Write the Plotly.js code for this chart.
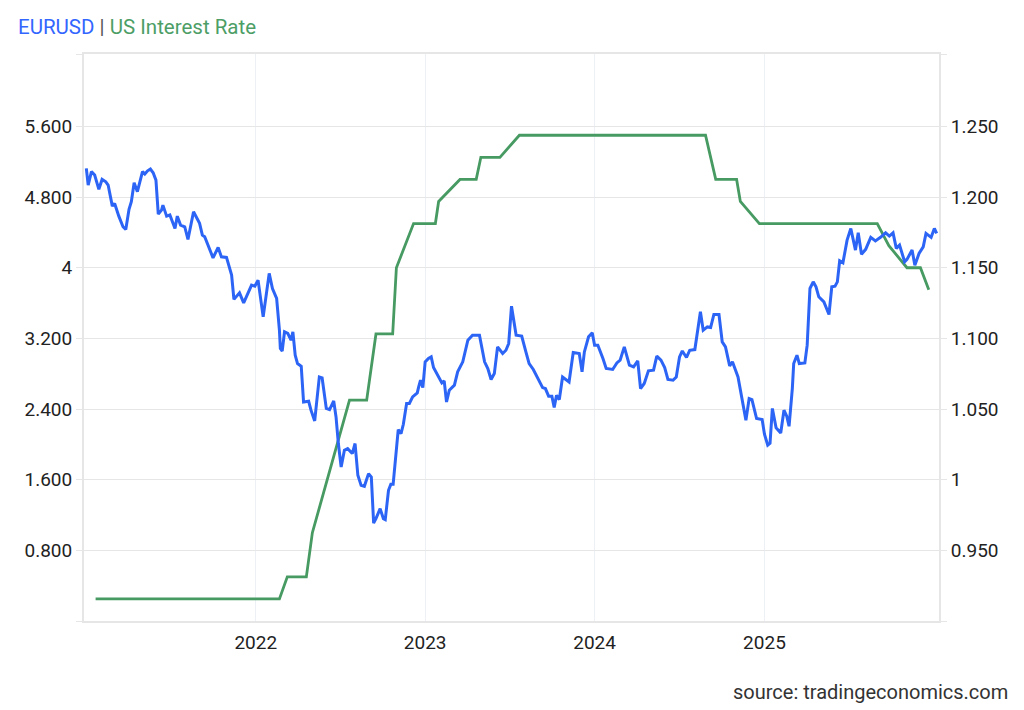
<!DOCTYPE html>
<html>
<head>
<meta charset="utf-8">
<script src="https://cdn.plot.ly/plotly-3.0.1.min.js"></script>
<style>html,body{margin:0;padding:0;background:#fff}#chart{width:1024px;height:710px}</style>
</head>
<body>
<div id="chart"></div>
<script>
// ---- data ----
const eurusdDates = [
'2021-01-01','2021-01-05','2021-01-12','2021-01-19','2021-01-28','2021-02-04','2021-02-12','2021-02-17','2021-02-26','2021-03-03','2021-03-12','2021-03-21','2021-03-27','2021-04-03','2021-04-08','2021-04-14','2021-04-21','2021-05-02','2021-05-07','2021-05-13','2021-05-19','2021-05-25','2021-05-31','2021-06-05','2021-06-12','2021-06-15','2021-06-23','2021-06-30','2021-07-11','2021-07-16','2021-07-23','2021-08-01','2021-08-08','2021-08-14','2021-08-20','2021-09-02','2021-09-08','2021-09-13','2021-10-01','2021-10-12','2021-10-19','2021-10-30','2021-11-10','2021-11-15','2021-11-27','2021-12-06','2021-12-23','2021-12-30',
'2022-01-06','2022-01-17','2022-01-30','2022-02-06','2022-02-15','2022-02-21','2022-02-23','2022-02-27','2022-03-04','2022-03-11','2022-03-18','2022-03-22','2022-03-27','2022-04-01','2022-04-09','2022-04-14','2022-04-25','2022-04-30','2022-05-08','2022-05-18','2022-05-24','2022-06-02','2022-06-09','2022-06-18','2022-06-23','2022-06-28','2022-07-04','2022-07-11','2022-07-18','2022-07-28','2022-08-03','2022-08-09','2022-08-16','2022-08-23','2022-09-01','2022-09-07','2022-09-12','2022-09-17','2022-09-26','2022-10-03','2022-10-07','2022-10-14','2022-10-19','2022-10-24','2022-11-04','2022-11-10','2022-11-15','2022-11-22','2022-11-28','2022-12-05','2022-12-15','2022-12-18','2022-12-22','2022-12-27',
'2023-01-01','2023-01-08','2023-01-14','2023-01-19','2023-01-28','2023-02-06','2023-02-11','2023-02-16','2023-02-22','2023-03-05','2023-03-12','2023-03-23','2023-04-03','2023-04-13','2023-04-28','2023-05-09','2023-05-16','2023-05-23','2023-05-30','2023-06-06','2023-06-17','2023-06-24','2023-06-30','2023-07-06','2023-07-16','2023-07-28','2023-08-06','2023-08-13','2023-08-22','2023-09-02','2023-09-11','2023-09-17','2023-09-24','2023-10-01','2023-10-06','2023-10-11','2023-10-17','2023-10-24','2023-11-07','2023-11-16','2023-11-29','2023-12-05','2023-12-10','2023-12-19','2023-12-27',
'2024-01-01','2024-01-08','2024-01-19','2024-01-26','2024-02-09','2024-02-18','2024-02-25','2024-03-05','2024-03-16','2024-03-25','2024-04-03','2024-04-09','2024-04-17','2024-04-26','2024-05-07','2024-05-14','2024-05-23','2024-05-31','2024-06-07','2024-06-18','2024-06-25','2024-07-02','2024-07-08','2024-07-17','2024-07-24','2024-08-04','2024-08-16','2024-08-22','2024-08-31','2024-09-07','2024-09-14','2024-09-25','2024-10-02','2024-10-09','2024-10-18','2024-10-24','2024-11-05','2024-11-14','2024-11-22','2024-11-29','2024-12-05','2024-12-15','2024-12-27',
'2025-01-01','2025-01-08','2025-01-13','2025-01-18','2025-01-26','2025-02-05','2025-02-12','2025-02-18','2025-02-23','2025-03-02','2025-03-05','2025-03-12','2025-03-17','2025-03-29','2025-04-03','2025-04-09','2025-04-16','2025-04-22','2025-04-28','2025-05-09','2025-05-20','2025-05-26','2025-06-02','2025-06-07','2025-06-12','2025-06-19','2025-06-28','2025-07-06','2025-07-16','2025-07-22','2025-07-29','2025-08-07','2025-08-18','2025-08-28','2025-09-08','2025-09-19','2025-09-27','2025-10-05','2025-10-12','2025-10-19','2025-10-30','2025-11-04','2025-11-15','2025-11-21','2025-11-30','2025-12-09','2025-12-15','2025-12-26','2026-01-02','2026-01-07'
];
const eurusdValues = [
1.2203,1.2085,1.218,1.2156,1.2055,1.2125,1.2108,1.2085,1.1936,1.1955,1.1865,1.179,1.1771,1.1913,1.1967,1.2101,1.2038,1.218,1.2163,1.2186,1.2198,1.2172,1.212,1.188,1.1908,1.1943,1.1865,1.1873,1.1778,1.1865,1.1802,1.179,1.170,1.1802,1.1896,1.1814,1.1731,1.1719,1.157,1.1644,1.1577,1.1573,1.1448,1.1276,1.1322,1.1251,1.1377,1.137,
1.1412,1.1152,1.146,1.1353,1.1283,1.1058,1.0928,1.0911,1.1046,1.1035,1.0987,1.1046,1.0881,1.0822,1.0803,1.055,1.0555,1.0492,1.0416,1.0727,1.072,1.0504,1.0496,1.0557,1.0444,1.0256,1.009,1.0208,1.022,1.0185,1.0256,1.0031,0.996,0.9953,1.0043,1.0019,0.9693,0.9724,0.9795,0.9724,0.9717,0.9925,0.9967,0.9967,1.0355,1.0326,1.0392,1.0539,1.0539,1.0586,1.0614,1.0657,1.0704,1.0652,
1.0834,1.0858,1.0869,1.0794,1.0739,1.0685,1.0699,1.055,1.0633,1.0669,1.0763,1.0834,1.0987,1.1023,1.1023,1.0834,1.0787,1.0709,1.0751,1.094,1.0893,1.0916,1.0964,1.1228,1.1023,1.1016,1.0904,1.0822,1.078,1.0709,1.0652,1.0645,1.0591,1.0591,1.0511,1.0598,1.0567,1.0727,1.0692,1.0900,1.0893,1.0763,1.0904,1.1011,1.1039,
1.0952,1.0952,1.0858,1.0787,1.078,1.0826,1.0846,1.094,1.081,1.0798,1.0841,1.0645,1.0681,1.077,1.0775,1.0874,1.0846,1.0794,1.0709,1.0704,1.0727,1.0869,1.0911,1.0865,1.0916,1.0921,1.1188,1.1058,1.1081,1.1077,1.1169,1.1169,1.0975,1.094,1.0805,1.0834,1.0727,1.0576,1.0421,1.0574,1.0567,1.0433,1.0426,
1.0322,1.0244,1.0258,1.0504,1.0368,1.0331,1.0492,1.0449,1.0378,1.0645,1.0822,1.0881,1.0822,1.0826,1.0952,1.1353,1.140,1.1365,1.1294,1.1258,1.1169,1.1365,1.137,1.140,1.1549,1.1535,1.1695,1.1778,1.1625,1.1747,1.1596,1.163,1.1715,1.169,1.1715,1.1747,1.1724,1.1747,1.1637,1.166,1.1542,1.1559,1.1625,1.1518,1.1601,1.1648,1.1743,1.1715,1.1778,1.1743
];
const rateDates = ['2021-01-21','2022-02-21','2022-03-10','2022-04-20','2022-05-03','2022-07-22','2022-08-28','2022-09-17','2022-10-23','2022-10-31','2022-12-07','2023-01-23','2023-01-30','2023-03-17','2023-04-21','2023-05-01','2023-06-11','2023-07-23','2024-08-27','2024-09-18','2024-11-02','2024-11-10','2024-12-21','2025-09-01','2025-09-26','2025-11-04','2025-12-03','2025-12-21'];
const rateValues = [0.25,0.25,0.5,0.5,1.0,2.5,2.5,3.25,3.25,4.0,4.5,4.5,4.75,5.0,5.0,5.25,5.25,5.5,5.5,5.0,5.0,4.75,4.5,4.5,4.25,4.0,4.0,3.75];

const leftTickVals = [0, 0.8, 1.6, 2.4, 3.2, 4, 4.8, 5.6, 6.42];
const leftTickText = ['', '0.800', '1.600', '2.400', '3.200', '4', '4.800', '5.600', ''];
const rightTickVals = [0.9, 0.95, 1.0, 1.05, 1.10, 1.15, 1.20, 1.25, 1.30125];
const rightTickText = ['', '0.950', '1', '1.050', '1.100', '1.150', '1.200', '1.250', ''];
const yearTickVals = ['2022-01-01', '2023-01-01', '2024-01-01', '2025-01-01'];
const yearTickText = ['2022', '2023', '2024', '2025'];

const BLUE = '#2c64f6';
const GREEN = '#469a62';
const GRID = '#e6e6e6';

const traces = [
  {x: rateDates, y: rateValues, type: 'scatter', mode: 'lines', name: 'US Interest Rate',
   yaxis: 'y', line: {color: GREEN, width: 2.8}},
  {x: eurusdDates, y: eurusdValues, type: 'scatter', mode: 'lines', name: 'EURUSD',
   yaxis: 'y2', line: {color: BLUE, width: 3}}
];

const layout = {
  width: 1024, height: 710,
  margin: {l: 84, r: 85, t: 54, b: 89},
  paper_bgcolor: '#fff', plot_bgcolor: '#fff',
  showlegend: false,
  font: {family: 'Roboto, sans-serif', size: 19, color: '#222'},
  title: {
    text: '<span style="color:#3366ff">EURUSD</span><span style="color:#555"> | </span><span style="color:#4c9e66">US Interest Rate</span>',
    x: 18/1024, xref: 'container', xanchor: 'left',
    y: 1 - 27/710, yref: 'container', yanchor: 'middle',
    font: {family: 'Roboto, sans-serif', size: 20.5}
  },
  xaxis: {
    type: 'date', range: ['2020-12-27', '2026-01-12'],
    tickmode: 'array', tickvals: yearTickVals, ticktext: yearTickText,
    showgrid: true, gridcolor: '#edf1f6', gridwidth: 1,
    ticks: '', ticklabelstandoff: 3,
    showline: true, linecolor: GRID, linewidth: 2, mirror: true,
    zeroline: false,
    tickfont: {size: 19, color: '#222'}
  },
  yaxis: {
    range: [0, 6.42], tickmode: 'array', tickvals: leftTickVals, ticktext: leftTickText,
    showgrid: true, gridcolor: GRID, gridwidth: 1,
    ticks: 'outside', ticklen: 6, tickcolor: GRID, tickwidth: 1,
    showline: true, linecolor: GRID, linewidth: 2,
    zeroline: false,
    tickfont: {size: 19, color: '#222'}
  },
  yaxis2: {
    range: [0.9, 1.30125], overlaying: 'y', side: 'right',
    tickmode: 'array', tickvals: rightTickVals, ticktext: rightTickText,
    showgrid: false,
    ticks: 'outside', ticklen: 6, tickcolor: GRID, tickwidth: 1,
    showline: true, linecolor: GRID, linewidth: 2,
    zeroline: false,
    tickfont: {size: 19, color: '#222'}
  },
  annotations: [{
    text: 'source: tradingeconomics.com', xref: 'paper', yref: 'paper',
    x: (1010 - 84) / 855, y: (621 - 692) / 567, xanchor: 'right', yanchor: 'middle',
    showarrow: false, font: {family: 'Roboto, sans-serif', size: 20, color: '#333'}
  }]
};

Plotly.newPlot('chart', traces, layout, {staticPlot: true, displayModeBar: false});
</script>
</body>
</html>
